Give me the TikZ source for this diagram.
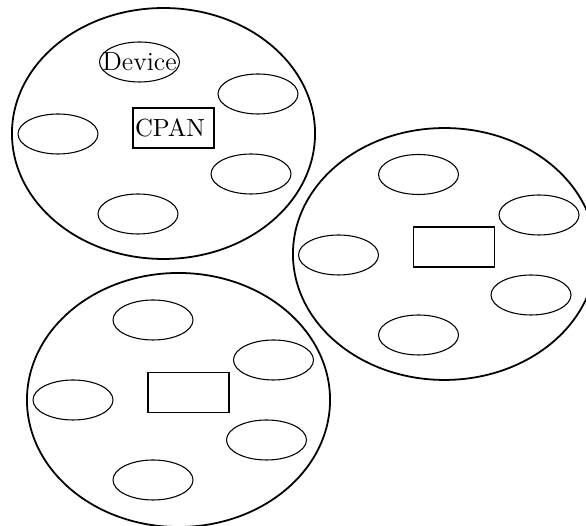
\documentclass[tikz,border=0pt]{standalone}
\usetikzlibrary{shapes.geometric}
\tikzset{
  bigcell/.style={draw, ellipse, line width=0.75pt, inner sep=0pt},
  dev/.style={draw, ellipse, line width=0.45pt, inner sep=0pt, minimum width=33.6pt, minimum height=16.8pt},
  hub/.style={draw, rectangle, line width=0.75pt, inner sep=0pt, minimum width=34pt, minimum height=16.8pt, text width=32.5pt, align=left, font=\fontsize{10.4pt}{12pt}\selectfont},
}
\begin{document}
\begin{tikzpicture}[x=0.42pt, y=-0.42pt]
\useasboundingbox (0,0) rectangle (586,526);
% cluster 1
\node[bigcell, minimum width=127.3pt, minimum height=105.4pt] (c1) at (163.5,133.5) {};
\node[dev, label={[font=\fontsize{11pt}{12pt}\selectfont, inner sep=0pt]center:Device}] (c1a) at (139.5,62) {};
\node[dev] (c1b) at (258,94) {};
\node[dev] (c1c) at (58,134) {};
\node[dev] (c1d) at (251,174) {};
\node[dev] (c1e) at (138,214) {};
\node[hub] (h1) at (173.8,127.8) {CPAN};
% cluster 2
\node[bigcell, minimum width=127.3pt, minimum height=105.8pt] (c2) at (444.5,254) {};
\node[dev] (c2a) at (418.5,174.5) {};
\node[dev] (c2b) at (539,215) {};
\node[dev] (c2c) at (338.5,255) {};
\node[dev] (c2d) at (531,295) {};
\node[dev] (c2e) at (418.5,335) {};
\node[hub] (h2) at (454,247) {};
% cluster 3
\node[bigcell, minimum width=127.3pt, minimum height=106.7pt] (c3) at (178.5,400) {};
\node[dev] (c3a) at (153,320) {};
\node[dev] (c3b) at (273.5,360) {};
\node[dev] (c3c) at (73,400) {};
\node[dev] (c3d) at (266.5,440) {};
\node[dev] (c3e) at (153,480) {};
\node[hub] (h3) at (188.5,392.5) {};
\end{tikzpicture}
\end{document}
